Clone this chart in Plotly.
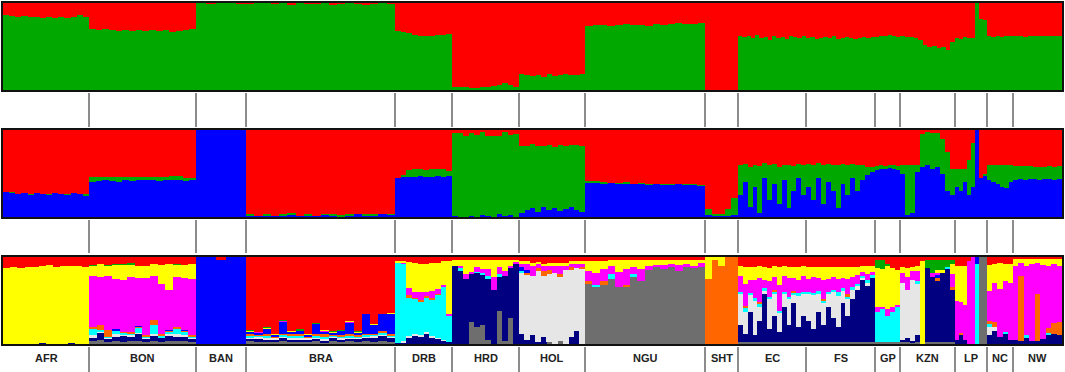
import plotly.graph_objects as go

# ---------------- data ----------------
populations = ["AFR", "BON", "BAN", "BRA", "DRB", "HRD", "HOL", "NGU",
               "SHT", "EC", "FS", "GP", "KZN", "LP", "NC", "NW"]
pop_n = [86, 107, 50, 149, 57, 67, 66, 120, 33, 68, 69, 25, 55, 32, 26, 49]

# K=2 : green ancestry (%) per block of individuals (rest = red)
k2_green = [
    [86, 85, 84, 85, 84, 84, 83, 84, 83, 84, 83, 84, 86, 84],
    [70, 69, 70, 69, 68, 69, 68, 69, 68, 69, 68, 69, 67, 68, 69, 70],
    [100, 99, 100, 100, 99],
    [99, 100, 100, 99, 100, 98, 100, 99, 99, 100, 98, 99, 100, 99, 98, 99, 100, 99],
    [68, 67, 66, 63, 62, 62, 62, 63, 63, 64],
    [4, 3, 3, 2, 2, 3, 4, 5, 6, 8, 6, 3],
    [18, 17, 16, 17, 15, 18, 16, 17, 18, 17, 17, 18],
    [74, 75, 75, 74, 75, 76, 75, 75, 74, 76, 75, 76, 77, 76, 76, 77],
    [0, 0, 0, 0],
    [62, 61, 62, 60, 63, 60, 61, 58, 62, 60, 61, 59, 62, 61, 60, 62],
    [60, 61, 59, 60, 61, 60, 62, 59, 60, 61, 60, 59, 60, 61, 60, 61],
    [61, 62, 62, 63, 62, 61],
    [62, 61, 61, 60, 58, 52, 50, 51, 48, 49, 46, 55],
    [60, 59, 61, 60, 60, 100, 82, 80],
    [62, 61, 62, 61, 62, 62],
    [62, 62, 61, 62, 62, 62, 62, 62, 62, 62],
]

# K=3 : blue and green ancestry (%) per block (rest = red)
k3_blue = [
    [29, 28, 27, 28, 26, 28, 27, 26, 28, 27, 26, 28, 27, 25],
    [40, 41, 42, 41, 40, 42, 41, 42, 43, 42, 41, 42, 43, 42, 41, 42],
    [100, 100, 100, 100, 100],
    [2, 1, 2, 1, 2, 3, 1, 2, 1, 3, 2, 1, 2, 3, 2, 2, 4, 3],
    [45, 46, 46, 46, 47, 46, 46, 47, 46, 47],
    [1, 0, 0, 1, 0, 2, 1, 0, 3, 1, 2, 0],
    [5, 8, 10, 6, 12, 8, 10, 7, 9, 11, 8, 6],
    [40, 40, 39, 39, 38, 39, 38, 38, 37, 38, 37, 37, 38, 37, 37, 36],
    [2, 1, 1, 1, 2],
    [25, 40, 12, 35, 5, 45, 20, 38, 15, 42, 10, 30, 45, 25],
    [35, 20, 45, 15, 40, 30, 10, 38, 25, 45, 30, 42, 48, 52],
    [54, 55, 55, 56, 55, 54],
    [50, 2, 5, 52, 58, 60, 55, 58, 50, 30, 25],
    [35, 30, 40, 25, 35, 100, 45, 48],
    [42, 40, 38, 35, 33, 40],
    [43, 44, 43, 44, 44, 43, 44, 44, 43, 44],
]
k3_green = [
    [0, 1, 0, 0, 1, 0, 0, 1, 0, 0, 1, 0, 0, 1],
    [6, 5, 4, 5, 6, 4, 5, 4, 3, 4, 5, 4, 4, 5, 4, 3],
    [0, 0, 0, 0, 0],
    [1, 0, 1, 0, 1, 2, 0, 1, 0, 1, 2, 1, 1, 0, 1, 1, 0, 1],
    [0, 2, 8, 9, 8, 8, 9, 8, 9, 6],
    [95, 96, 93, 95, 94, 96, 92, 93, 90, 97, 92, 95],
    [77, 74, 74, 76, 70, 75, 71, 76, 73, 72, 75, 76],
    [1, 1, 1, 0, 1, 1, 0, 1, 1, 0, 1, 1, 0, 1, 1, 1],
    [7, 3, 3, 8, 20],
    [35, 21, 46, 25, 54, 17, 40, 23, 43, 18, 50, 29, 16, 35],
    [26, 40, 17, 45, 21, 30, 50, 23, 35, 16, 30, 18, 10, 5],
    [5, 5, 4, 4, 5, 5],
    [10, 58, 55, 8, 37, 38, 42, 38, 40, 45, 30],
    [20, 25, 15, 40, 50, 0, 0, 2],
    [18, 20, 22, 25, 27, 20],
    [16, 15, 16, 15, 14, 15, 14, 15, 15, 15],
]

# K=10 : cluster memberships (%) per block, clusters in k10_clusters order
k10_clusters = ["gray", "navy", "lightgray", "cyan", "orange",
                "blue", "magenta", "yellow", "green", "red"]
k10_colors = ["#6E6E6E", "#000080", "#E6E6E6", "#00FFFF", "#FF6600",
              "#0000FF", "#FF00FF", "#FFFF00", "#00A800", "#FF0000"]
k10_rows = [
    # AFR
    [[0, 0, 0, 0, 0, 0, 0, 87, 0, 13], [0, 0, 0, 0, 0, 0, 0, 88, 0, 12],
     [0, 0, 0, 0, 0, 0, 0, 87, 0, 13], [0, 0, 0, 0, 0, 0, 0, 89, 0, 11],
     [0, 0, 0, 0, 0, 0, 0, 88, 0, 12], [0, 1, 0, 0, 0, 0, 0, 89, 0, 10],
     [0, 0, 0, 0, 0, 0, 0, 91, 0, 9], [0, 0, 0, 0, 0, 0, 0, 89, 0, 11],
     [0, 0, 0, 0, 0, 0, 0, 90, 0, 10], [0, 1, 0, 0, 0, 0, 0, 89, 0, 10],
     [0, 0, 0, 0, 0, 0, 0, 90, 0, 10], [0, 0, 0, 0, 0, 0, 0, 89, 0, 11]],
    # BON
    [[3, 5, 2, 8, 2, 0, 58, 12, 1, 9], [5, 8, 1, 2, 6, 0, 55, 15, 0, 8],
     [2, 4, 1, 1, 8, 0, 62, 12, 1, 9], [3, 6, 2, 4, 1, 1, 58, 16, 1, 8],
     [2, 8, 1, 2, 1, 0, 60, 17, 1, 8], [4, 5, 2, 1, 2, 0, 63, 14, 2, 7],
     [3, 9, 1, 6, 1, 1, 55, 14, 0, 10], [2, 4, 1, 2, 1, 0, 66, 14, 0, 10],
     [3, 6, 3, 10, 6, 0, 50, 14, 0, 8], [2, 5, 1, 2, 1, 0, 58, 22, 0, 9],
     [3, 7, 1, 3, 1, 1, 46, 30, 0, 8], [4, 5, 2, 7, 2, 0, 57, 14, 1, 8],
     [3, 6, 1, 4, 1, 1, 60, 15, 0, 9], [2, 4, 1, 2, 1, 0, 65, 17, 0, 8]],
    # BAN
    [[0, 0, 0, 0, 0, 100, 0, 0, 0, 0], [0, 0, 0, 0, 0, 100, 0, 0, 0, 0],
     [0, 0, 0, 0, 0, 97, 0, 0, 0, 3], [0, 0, 0, 0, 0, 100, 0, 0, 0, 0],
     [0, 0, 0, 0, 0, 100, 0, 0, 0, 0]],
    # BRA
    [[3, 3, 2, 2, 1, 3, 0, 1, 1, 84], [2, 4, 3, 1, 1, 2, 1, 0, 0, 86],
     [3, 2, 2, 3, 2, 6, 0, 1, 1, 80], [2, 3, 2, 1, 1, 2, 0, 1, 0, 88],
     [3, 4, 2, 2, 1, 14, 1, 0, 1, 72], [2, 3, 2, 3, 1, 3, 0, 1, 0, 85],
     [3, 2, 3, 2, 1, 4, 1, 0, 1, 83], [2, 3, 2, 1, 1, 2, 0, 1, 0, 88],
     [3, 3, 2, 2, 1, 12, 0, 0, 1, 76], [2, 2, 2, 3, 2, 3, 1, 1, 0, 84],
     [3, 4, 2, 1, 1, 2, 0, 1, 1, 85], [2, 3, 2, 2, 1, 5, 0, 0, 1, 84],
     [3, 3, 2, 2, 1, 14, 1, 1, 0, 73], [2, 4, 2, 1, 1, 3, 0, 1, 1, 85],
     [3, 5, 1, 2, 1, 22, 0, 0, 0, 66], [2, 6, 2, 1, 1, 10, 0, 1, 0, 77],
     [3, 7, 1, 2, 2, 20, 0, 0, 0, 65], [2, 5, 2, 1, 1, 24, 0, 1, 0, 64]],
    # DRB
    [[0, 1, 0, 93, 0, 0, 0, 1, 0, 5], [0, 2, 1, 90, 0, 0, 1, 1, 0, 5],
     [0, 8, 1, 45, 2, 0, 8, 30, 0, 6], [0, 10, 2, 40, 1, 0, 7, 33, 0, 7],
     [0, 9, 1, 38, 3, 0, 9, 32, 0, 8], [0, 12, 2, 40, 1, 0, 5, 32, 0, 8],
     [0, 8, 1, 42, 2, 0, 8, 32, 0, 7], [0, 6, 1, 50, 1, 0, 5, 30, 0, 7],
     [0, 4, 1, 60, 0, 0, 3, 27, 0, 5], [0, 2, 0, 30, 0, 0, 3, 60, 0, 5]],
    # HRD
    [[0, 90, 0, 0, 0, 0, 0, 6, 0, 4], [0, 85, 0, 2, 0, 0, 3, 7, 0, 3],
     [0, 75, 0, 0, 0, 0, 5, 17, 0, 3], [25, 55, 0, 0, 0, 0, 3, 14, 0, 3],
     [20, 62, 0, 1, 0, 0, 5, 9, 0, 3], [22, 58, 0, 2, 0, 0, 4, 11, 0, 3],
     [5, 70, 0, 3, 0, 0, 8, 11, 0, 3], [0, 62, 0, 0, 0, 0, 15, 20, 0, 3],
     [38, 40, 0, 2, 0, 0, 8, 9, 0, 3], [3, 75, 0, 0, 0, 0, 6, 13, 0, 3],
     [30, 58, 0, 0, 0, 0, 2, 7, 0, 3], [0, 92, 0, 0, 0, 0, 2, 3, 0, 3]],
    # HOL
    [[0, 12, 70, 2, 0, 5, 4, 2, 0, 5], [0, 5, 75, 0, 2, 3, 8, 2, 0, 5],
     [0, 10, 68, 0, 0, 0, 12, 3, 0, 7], [0, 2, 82, 0, 3, 0, 5, 2, 0, 6],
     [0, 8, 70, 0, 6, 0, 6, 2, 0, 8], [2, 0, 78, 0, 5, 0, 5, 3, 0, 7],
     [0, 0, 82, 0, 0, 0, 8, 3, 0, 7], [3, 0, 75, 0, 2, 0, 10, 3, 0, 7],
     [0, 0, 85, 0, 0, 0, 5, 3, 0, 7], [0, 8, 78, 0, 2, 0, 4, 3, 0, 5],
     [0, 15, 72, 0, 0, 0, 5, 3, 0, 5], [0, 0, 86, 0, 3, 0, 4, 2, 0, 5]],
    # NGU
    [[70, 0, 0, 0, 2, 0, 12, 11, 0, 5], [66, 0, 0, 2, 0, 0, 14, 13, 0, 5],
     [68, 0, 0, 0, 4, 0, 14, 9, 0, 5], [75, 0, 0, 5, 0, 0, 10, 6, 0, 4],
     [66, 0, 0, 0, 0, 0, 17, 13, 0, 4], [65, 0, 0, 0, 3, 0, 18, 10, 0, 4],
     [78, 0, 0, 2, 0, 0, 9, 7, 0, 4], [72, 0, 0, 0, 0, 0, 14, 10, 0, 4],
     [85, 0, 0, 0, 0, 0, 5, 6, 0, 4], [88, 0, 0, 0, 0, 0, 3, 6, 0, 3],
     [86, 0, 0, 0, 0, 0, 5, 6, 0, 3], [88, 0, 0, 0, 0, 0, 4, 5, 0, 3],
     [84, 0, 0, 0, 0, 0, 7, 6, 0, 3], [88, 0, 0, 0, 0, 0, 4, 5, 0, 3],
     [87, 0, 0, 0, 0, 0, 3, 7, 0, 3], [89, 0, 0, 0, 0, 0, 4, 4, 0, 3]],
    # SHT
    [[0, 0, 0, 0, 75, 0, 0, 25, 0, 0], [0, 0, 0, 0, 96, 0, 0, 4, 0, 0],
     [0, 0, 0, 0, 90, 0, 0, 10, 0, 0], [0, 0, 0, 0, 100, 0, 0, 0, 0, 0],
     [0, 0, 0, 0, 100, 0, 0, 0, 0, 0]],
    # EC
    [[2, 20, 35, 3, 0, 0, 18, 12, 0, 10], [2, 10, 25, 5, 2, 0, 25, 20, 0, 11],
     [2, 35, 20, 2, 0, 0, 15, 15, 0, 11], [2, 8, 40, 3, 0, 0, 20, 15, 0, 12],
     [2, 25, 15, 4, 2, 0, 28, 14, 0, 10], [2, 55, 5, 2, 0, 0, 10, 14, 0, 12],
     [2, 15, 35, 2, 0, 0, 18, 15, 0, 13], [2, 30, 25, 3, 2, 0, 15, 13, 0, 10],
     [2, 12, 22, 2, 0, 0, 30, 20, 0, 12], [2, 40, 15, 3, 0, 0, 18, 12, 0, 10],
     [2, 20, 30, 2, 0, 0, 22, 12, 0, 12], [2, 45, 10, 2, 2, 0, 15, 13, 0, 11],
     [2, 18, 35, 4, 0, 0, 15, 15, 0, 11], [2, 30, 25, 3, 0, 0, 18, 12, 0, 10]],
    # FS
    [[2, 25, 30, 3, 0, 0, 15, 14, 0, 11], [2, 15, 40, 2, 0, 0, 18, 12, 0, 11],
     [2, 35, 20, 4, 0, 0, 15, 12, 0, 12], [2, 20, 25, 3, 2, 0, 22, 14, 0, 12],
     [2, 40, 15, 3, 0, 0, 15, 13, 0, 12], [2, 28, 30, 2, 0, 0, 15, 12, 0, 11],
     [2, 18, 35, 5, 0, 0, 15, 14, 0, 11], [2, 45, 15, 2, 0, 0, 12, 12, 0, 12],
     [2, 30, 20, 3, 2, 0, 18, 13, 0, 12], [2, 50, 10, 3, 0, 0, 12, 12, 0, 11],
     [2, 60, 5, 2, 0, 0, 10, 10, 0, 11], [2, 72, 2, 2, 0, 0, 5, 7, 0, 10],
     [2, 65, 3, 3, 0, 0, 7, 10, 0, 10], [2, 75, 0, 2, 0, 0, 4, 7, 0, 10]],
    # GP
    [[2, 0, 0, 35, 0, 0, 5, 45, 10, 3], [2, 0, 0, 38, 0, 0, 3, 43, 10, 4],
     [2, 0, 0, 30, 0, 0, 8, 50, 2, 8], [2, 0, 0, 35, 0, 0, 5, 45, 0, 13],
     [2, 0, 0, 40, 0, 0, 3, 40, 0, 15]],
    # KZN
    [[2, 3, 65, 0, 0, 0, 12, 6, 0, 12], [2, 5, 55, 0, 0, 0, 15, 10, 0, 13],
     [2, 2, 70, 0, 0, 0, 10, 4, 0, 12], [2, 8, 60, 2, 0, 0, 12, 6, 0, 10],
     [0, 0, 0, 0, 0, 0, 0, 95, 0, 5], [2, 85, 0, 0, 0, 0, 0, 0, 10, 3],
     [2, 75, 0, 0, 0, 0, 5, 0, 15, 3], [2, 70, 0, 0, 5, 2, 3, 3, 12, 3],
     [2, 80, 0, 0, 0, 0, 0, 3, 12, 3], [2, 85, 0, 2, 0, 0, 0, 0, 8, 3],
     [2, 60, 0, 0, 3, 0, 15, 12, 5, 3]],
    # LP
    [[0, 5, 0, 0, 0, 0, 45, 40, 0, 10], [0, 10, 0, 0, 3, 0, 35, 42, 0, 10],
     [0, 5, 0, 0, 0, 0, 40, 45, 0, 10], [0, 0, 0, 0, 0, 0, 95, 0, 0, 5],
     [0, 0, 0, 0, 0, 0, 100, 0, 0, 0], [0, 0, 0, 92, 0, 8, 0, 0, 0, 0],
     [100, 0, 0, 0, 0, 0, 0, 0, 0, 0], [100, 0, 0, 0, 0, 0, 0, 0, 0, 0]],
    # NC
    [[0, 10, 10, 3, 3, 0, 35, 30, 0, 9], [0, 15, 5, 0, 5, 0, 45, 22, 0, 8],
     [0, 8, 0, 0, 0, 0, 55, 30, 0, 7], [0, 12, 0, 2, 0, 0, 58, 20, 0, 8],
     [0, 5, 0, 0, 0, 0, 65, 22, 0, 8]],
    # NW
    [[0, 5, 0, 0, 0, 0, 85, 8, 0, 2], [0, 3, 0, 0, 75, 0, 15, 5, 0, 2],
     [0, 8, 0, 2, 0, 0, 80, 8, 0, 2], [0, 4, 0, 0, 0, 0, 88, 6, 0, 2],
     [0, 3, 0, 0, 55, 0, 35, 5, 0, 2], [0, 6, 0, 0, 0, 0, 85, 7, 0, 2],
     [0, 10, 0, 3, 5, 0, 72, 8, 0, 2], [0, 12, 0, 0, 12, 0, 68, 6, 0, 2],
     [0, 10, 0, 0, 15, 0, 65, 8, 0, 2]],
]

GREEN, RED, BLUE = "#00A800", "#FF0000", "#0000FF"

# ---------------- helpers ----------------
def block_positions(pop_lists):
    xs, ws = [], []
    start = 0
    for n, vals in zip(pop_n, pop_lists):
        w = n / len(vals)
        for i in range(len(vals)):
            xs.append(start + (i + 0.5) * w)
            ws.append(w * 1.01)
        start += n
    return xs, ws


def bar(xs, ws, ys, color, ax):
    return go.Bar(x=xs, y=ys, width=ws, marker=dict(color=color, line=dict(width=0)),
                  xaxis="x" + ax, yaxis="y" + ax, showlegend=False, hoverinfo="skip")


fig = go.Figure()

# panel 1 (K=2)
xs, ws = block_positions(k2_green)
g = [v for p in k2_green for v in p]
fig.add_trace(bar(xs, ws, g, GREEN, ""))
fig.add_trace(bar(xs, ws, [100 - v for v in g], RED, ""))

# panel 2 (K=3)
xs, ws = block_positions(k3_blue)
b = [v for p in k3_blue for v in p]
gg = [v for p in k3_green for v in p]
fig.add_trace(bar(xs, ws, b, BLUE, "2"))
fig.add_trace(bar(xs, ws, gg, GREEN, "2"))
fig.add_trace(bar(xs, ws, [100 - u - v for u, v in zip(b, gg)], RED, "2"))

# panel 3 (K=10)
xs, ws = block_positions(k10_rows)
rows = [r for p in k10_rows for r in p]
for ci, col in enumerate(k10_colors):
    fig.add_trace(bar(xs, ws, [100 * r[ci] / sum(r) for r in rows], col, "3"))

# ---------------- layout ----------------
W, H = 1065, 372
total = sum(pop_n)
xdom = [3 / W, 1062 / W]


def ydom(top, bottom):
    return [1 - bottom / H, 1 - top / H]


frame = dict(showline=True, mirror=True, linecolor="#111111", linewidth=2,
             showgrid=False, zeroline=False, showticklabels=False, ticks="")
layout = dict(width=W, height=H, margin=dict(l=0, r=0, t=0, b=0, pad=0),
              paper_bgcolor="white", plot_bgcolor="white",
              barmode="stack", bargap=0, showlegend=False)
for ax, (t, bt) in zip(["", "2", "3"], [(3, 90), (130, 217), (257, 344)]):
    layout["xaxis" + ax] = dict(domain=xdom, range=[0, total], anchor="y" + ax, **frame)
    layout["yaxis" + ax] = dict(domain=ydom(t, bt), range=[0, 100], anchor="x" + ax, **frame)
fig.update_layout(**layout)

# separators and labels
bounds = []
acc = 0
for n in pop_n[:-1]:
    acc += n
    bounds.append(acc)
shapes = []
for bx in bounds:
    for (t, bt) in [(93, 127), (220, 253), (347, 372)]:
        y0, y1 = ydom(t, bt)
        shapes.append(dict(type="line", xref="x", yref="paper", x0=bx, x1=bx,
                           y0=y0, y1=y1, line=dict(color="#666666", width=1.5)))
fig.update_layout(shapes=shapes)

acc = 0
for name, n in zip(populations, pop_n):
    fig.add_annotation(x=acc + n / 2, y=1 - 358 / H, xref="x", yref="paper",
                       text="<b>" + name + "</b>", showarrow=False,
                       font=dict(family="Liberation Sans, Arial", size=11, color="#222222"),
                       xanchor="center", yanchor="middle")
    acc += n

fig.write_html(
    "out.html",
    config={"responsive": False, "displayModeBar": False},
    post_script="document.body.style.margin='0px';document.body.style.padding='0px';"
                "document.body.style.overflow='hidden';"
                "Plotly.relayout(document.getElementById('{plot_id}'),{width:1065,height:372});",
)
